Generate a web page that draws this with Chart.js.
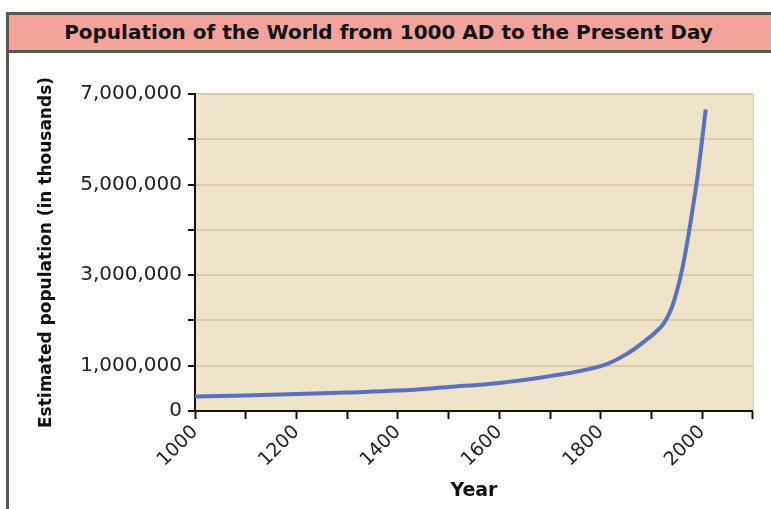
<!DOCTYPE html>
<html>
<head>
<meta charset="utf-8">
<script src="https://cdn.jsdelivr.net/npm/chart.js@4/dist/chart.umd.min.js"></script>
<style>
  body { margin: 0; background: #fdfdfb; width: 771px; height: 509px; overflow: hidden; position: relative; }
  #banner {
    position: absolute; left: 6px; top: 12px; width: 765px; height: 35px;
    background: #f4a39a; border-top: 3px solid #5a5656; border-bottom: 3px solid #5a5656;
    font: bold 20px "DejaVu Sans", sans-serif; color: #111;
    text-align: center; line-height: 35px;
  }
  #leftline { position: absolute; left: 6px; top: 12px; width: 3px; height: 497px; background: #5a5656; }
  #wrap { position: absolute; left: 0; top: 0; width: 771px; height: 509px; }
</style>
</head>
<body>
<div id="wrap"><canvas id="popChart" width="771" height="509"></canvas></div>
<div id="banner">Population of the World from 1000 AD to the Present Day</div>
<div id="leftline"></div>
<script>
// values (population in thousands)
const years = [1000, 1100, 1200, 1300, 1400, 1500, 1600, 1700, 1800, 1850, 1900, 1910, 1920, 1930, 1940, 1950, 1960, 1970, 1980, 1990, 2000, 2007];
const population = [320000, 345000, 375000, 410000, 450000, 530000, 620000, 770000, 990000, 1250000, 1660000, 1760000, 1870000, 2040000, 2280000, 2640000, 3100000, 3690000, 4370000, 5110000, 6000000, 6660000];
const yearLabels = [1000, 1200, 1400, 1600, 1800, 2000];
const popLabels = [0, 1000000, 3000000, 5000000, 7000000];

// tan plot background + faint right edge
const plotBg = {
    id: 'plotBg',
    beforeDraw(chart) {
        const a = chart.chartArea, c = chart.ctx;
        c.save();
        c.fillStyle = '#efe3c9';
        c.fillRect(a.left, a.top, a.right - a.left, a.bottom - a.top);
        c.strokeStyle = '#cfc6b4';
        c.lineWidth = 1;
        c.beginPath();
        c.moveTo(a.right + 0.5, a.top);
        c.lineTo(a.right + 0.5, a.bottom);
        c.stroke();
        c.restore();
    }
};

const ctx = document.getElementById('popChart').getContext('2d');
new Chart(ctx, {
    type: 'line',
    data: {
        datasets: [{
            data: years.map((y, i) => ({ x: y, y: population[i] })),
            borderColor: '#5a72bd',
            borderWidth: 4,
            pointRadius: 0,
            fill: false,
            tension: 0.4
        }]
    },
    options: {
        responsive: false,
        animation: false,
        layout: { padding: { top: 94, right: 17, left: 0, bottom: 0 } },
        plugins: { legend: { display: false }, tooltip: { enabled: false } },
        scales: {
            x: {
                type: 'linear',
                min: 1000, max: 2100,
                afterFit: s => { s.height = 98; },
                ticks: {
                    stepSize: 100,
                    autoSkip: false,
                    maxRotation: 45, minRotation: 45,
                    padding: 2,
                    color: '#222',
                    font: { family: 'DejaVu Sans', size: 19 },
                    callback: v => yearLabels.includes(v) ? String(v) : ''
                },
                grid: { drawOnChartArea: false, drawTicks: true, tickLength: 8, tickColor: '#111', tickWidth: 2 },
                border: { display: true, color: '#111', width: 2 },
                title: {
                    display: true, text: 'Year', color: '#111',
                    font: { family: 'DejaVu Sans', size: 19, weight: 'bold' },
                    padding: { bottom: 7 }
                }
            },
            y: {
                min: 0, max: 7000000,
                afterFit: s => { s.width = 195; },
                ticks: {
                    stepSize: 1000000,
                    autoSkip: false,
                    padding: 6,
                    color: '#222',
                    font: { family: 'DejaVu Sans', size: 20 },
                    callback: v => popLabels.includes(v) ? v.toLocaleString('en-US') : ''
                },
                grid: { color: '#dacbad', lineWidth: 2, tickColor: '#111', tickLength: 7, tickWidth: 2 },
                border: { display: true, color: '#111', width: 2 },
                title: {
                    display: true, text: 'Estimated population (in thousands)', color: '#111',
                    font: { family: 'DejaVu Sans', size: 17, weight: 'bold' },
                    padding: { top: 36 }
                }
            }
        }
    },
    plugins: [plotBg]
});
</script>
</body>
</html>
